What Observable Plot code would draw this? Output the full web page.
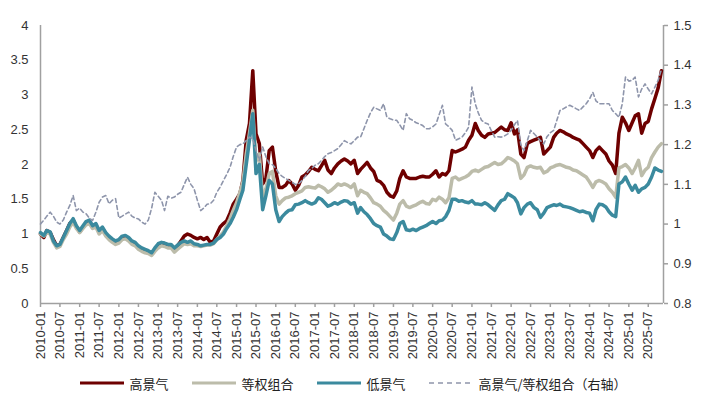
<!DOCTYPE html>
<html><head><meta charset="utf-8">
<script src="https://cdn.jsdelivr.net/npm/d3@7"></script>
<script src="https://cdn.jsdelivr.net/npm/@observablehq/plot@0.6"></script>
<style>
body{margin:0;background:#fff;font-family:"Liberation Sans",Arial,sans-serif;}
#legend{display:flex;justify-content:center;align-items:center;height:30px;font-family:"Noto Sans CJK SC",sans-serif;font-size:13px;color:#222;}
.item{display:flex;align-items:center;margin:0 12px;}
.item svg{margin-right:5px;}
</style></head><body>
<div id="chart"></div><div id="legend"></div>
<script>
// Series names (legend order)
const seriesNames = ["高景气", "等权组合", "低景气", "高景气/等权组合（右轴）"];
const seriesColors = ["#6e0000", "#bcbcaa", "#3b8a9e", "#8e95ab"];

// Monthly values, 2010-01 .. 2025-11 (left axis)
const high = [
  1.0,0.95,1.05,1.02,0.92,0.83,0.85,0.95,1.05,1.15,1.2,1.1,
  1.03,1.1,1.15,1.18,1.1,1.13,1.03,1.08,1.0,0.95,0.9,0.88,
  0.9,0.95,0.96,0.93,0.88,0.86,0.81,0.78,0.76,0.75,0.72,0.78,
  0.84,0.87,0.86,0.84,0.84,0.79,0.83,0.9,0.97,1.0,0.98,0.95,
  0.93,0.95,0.92,0.95,0.88,0.9,1.0,1.1,1.15,1.19,1.3,1.43,
  1.5,1.58,1.77,2.35,2.59,3.35,2.44,2.3,1.72,1.8,2.2,2.25,
  1.9,1.67,1.67,1.7,1.77,1.72,1.63,1.7,1.82,1.85,1.9,1.96,
  1.93,1.91,1.98,2.06,1.92,1.87,1.95,2.01,2.05,2.08,2.05,2.01,
  2.06,1.87,1.93,1.98,2.03,1.95,1.9,1.77,1.75,1.7,1.6,1.55,
  1.53,1.62,1.8,1.91,1.82,1.8,1.8,1.8,1.82,1.83,1.82,1.82,
  1.86,1.91,1.82,1.87,1.85,1.91,2.2,2.18,2.2,2.22,2.25,2.35,
  2.42,2.59,2.49,2.42,2.39,2.44,2.45,2.46,2.5,2.54,2.5,2.49,
  2.6,2.44,2.5,2.15,2.1,2.3,2.33,2.35,2.37,2.39,2.15,2.2,
  2.25,2.39,2.45,2.49,2.47,2.44,2.42,2.39,2.37,2.35,2.3,2.25,
  2.2,2.1,2.2,2.25,2.2,2.15,2.05,1.99,1.87,2.45,2.68,2.6,
  2.49,2.6,2.7,2.73,2.45,2.59,2.62,2.8,2.95,3.1,3.35
];
const equal = [
  1.0,0.97,1.02,1.0,0.88,0.8,0.82,0.92,1.0,1.1,1.17,1.08,
  1.02,1.08,1.13,1.15,1.08,1.1,1.0,1.05,0.97,0.92,0.88,0.85,
  0.87,0.92,0.93,0.9,0.85,0.83,0.78,0.75,0.73,0.72,0.69,0.75,
  0.8,0.83,0.82,0.8,0.8,0.74,0.78,0.82,0.86,0.85,0.86,0.83,
  0.83,0.82,0.83,0.84,0.84,0.86,0.92,0.97,1.03,1.12,1.22,1.34,
  1.45,1.6,1.75,2.15,2.45,2.78,2.05,2.15,1.5,1.65,1.87,1.9,
  1.55,1.43,1.48,1.52,1.53,1.55,1.58,1.6,1.62,1.67,1.68,1.67,
  1.66,1.7,1.68,1.65,1.6,1.63,1.67,1.72,1.7,1.72,1.7,1.67,
  1.72,1.55,1.63,1.6,1.58,1.52,1.45,1.43,1.4,1.34,1.3,1.25,
  1.2,1.3,1.43,1.48,1.4,1.38,1.4,1.42,1.45,1.47,1.44,1.43,
  1.5,1.48,1.53,1.5,1.45,1.52,1.8,1.82,1.78,1.8,1.82,1.85,
  1.9,1.92,1.9,1.93,1.96,1.97,2.0,2.03,2.0,2.01,2.05,2.1,
  2.08,2.05,2.01,1.8,1.85,1.96,1.98,1.96,1.95,1.96,1.88,1.9,
  1.95,1.97,1.99,2.0,1.98,1.96,1.95,1.92,1.91,1.88,1.85,1.82,
  1.75,1.67,1.75,1.77,1.75,1.72,1.65,1.6,1.53,1.95,1.97,2.0,
  1.95,1.87,1.95,2.06,1.84,1.92,1.96,2.1,2.18,2.25,2.3
];
const low = [
  1.02,0.98,1.05,1.03,0.9,0.83,0.85,0.95,1.05,1.15,1.22,1.12,
  1.05,1.12,1.18,1.2,1.12,1.15,1.05,1.1,1.02,0.97,0.93,0.9,
  0.92,0.97,0.98,0.95,0.9,0.88,0.83,0.8,0.78,0.76,0.73,0.8,
  0.86,0.88,0.87,0.85,0.85,0.8,0.84,0.88,0.9,0.88,0.9,0.86,
  0.85,0.83,0.84,0.85,0.85,0.87,0.92,0.95,1.0,1.08,1.15,1.24,
  1.35,1.5,1.63,2.0,2.35,2.73,1.87,2.0,1.35,1.55,1.77,1.72,
  1.35,1.18,1.25,1.3,1.34,1.35,1.42,1.43,1.45,1.48,1.45,1.43,
  1.45,1.52,1.5,1.45,1.4,1.42,1.45,1.43,1.46,1.48,1.47,1.43,
  1.45,1.3,1.38,1.32,1.28,1.22,1.15,1.12,1.1,1.0,0.97,0.93,
  0.92,1.02,1.15,1.18,1.06,1.05,1.07,1.05,1.08,1.1,1.12,1.15,
  1.18,1.15,1.19,1.2,1.25,1.34,1.5,1.5,1.47,1.48,1.46,1.45,
  1.48,1.43,1.43,1.42,1.45,1.42,1.38,1.34,1.42,1.48,1.5,1.58,
  1.55,1.52,1.45,1.29,1.38,1.43,1.45,1.38,1.35,1.24,1.3,1.38,
  1.4,1.42,1.41,1.43,1.4,1.39,1.38,1.36,1.34,1.32,1.33,1.31,
  1.3,1.19,1.35,1.43,1.42,1.39,1.32,1.27,1.25,1.72,1.75,1.82,
  1.72,1.63,1.7,1.6,1.65,1.67,1.72,1.82,1.95,1.92,1.9
];
// Ratio (right axis)
const ratio = [
  1.0,1.01,1.02,1.03,1.02,1.005,1.0,1.01,1.03,1.047,1.072,1.034,
  1.04,1.03,1.026,1.015,1.009,1.03,1.055,1.068,1.072,1.051,1.06,1.064,
  1.015,1.02,1.025,1.03,1.02,1.015,1.013,1.005,1.0,1.01,1.04,1.08,
  1.07,1.06,1.034,1.07,1.065,1.068,1.075,1.08,1.1,1.118,1.1,1.089,
  1.06,1.034,1.04,1.05,1.051,1.06,1.08,1.093,1.11,1.125,1.143,1.17,
  1.194,1.2,1.202,1.21,1.219,1.215,1.185,1.16,1.194,1.17,1.152,1.15,
  1.14,1.127,1.12,1.115,1.11,1.105,1.1,1.101,1.11,1.12,1.135,1.14,
  1.148,1.152,1.16,1.17,1.177,1.18,1.185,1.19,1.2,1.21,1.205,1.202,
  1.21,1.219,1.219,1.24,1.261,1.28,1.294,1.29,1.286,1.303,1.269,1.265,
  1.262,1.261,1.25,1.236,1.278,1.265,1.261,1.255,1.252,1.248,1.24,1.24,
  1.245,1.252,1.275,1.299,1.252,1.245,1.236,1.211,1.215,1.219,1.23,1.244,
  1.345,1.303,1.28,1.261,1.255,1.252,1.235,1.219,1.22,1.219,1.222,1.227,
  1.236,1.25,1.261,1.2,1.185,1.21,1.236,1.228,1.219,1.21,1.202,1.22,
  1.23,1.236,1.26,1.286,1.29,1.295,1.299,1.295,1.29,1.286,1.295,1.303,
  1.315,1.332,1.31,1.303,1.303,1.303,1.303,1.286,1.278,1.269,1.303,1.37,
  1.36,1.362,1.37,1.32,1.34,1.353,1.34,1.328,1.345,1.362,1.39
];

const leftTicks = [0, 0.5, 1, 1.5, 2, 2.5, 3, 3.5, 4];
const rightTicks = [0.8, 0.9, 1.0, 1.1, 1.2, 1.3, 1.4, 1.5];
const xStart = new Date(Date.UTC(2010, 0, 1));
const xEnd = new Date(Date.UTC(2025, 10, 20));
const xTicks = d3.utcMonth.every(6).range(xStart, new Date(Date.UTC(2025, 7, 1)));

const months = d3.utcMonth.range(xStart, new Date(Date.UTC(2025, 11, 1)));
const yMax = 4, rMin = 0.8, rMax = 1.5;
const toLeft = r => (r - rMin) / (rMax - rMin) * yMax;
const toRight = v => rMin + v / yMax * (rMax - rMin);

const rows = s => s.map((v, i) => ({date: months[i], value: v}));
const axisColor = "#a0a0a0";

const chart = Plot.plot({
  width: 707, height: 368,
  marginLeft: 40, marginRight: 44, marginTop: 25, marginBottom: 65,
  style: {fontFamily: "'Liberation Sans', Arial, sans-serif", fontSize: "13px", color: "#333", background: "#fff"},
  x: {type: "utc", domain: [xStart, xEnd]},
  y: {domain: [0, yMax]},
  marks: [
    Plot.axisY(leftTicks, {anchor: "left", tickSize: 0, tickPadding: 12, tickFormat: d3.format("~g"), label: null, fill: "#333"}),
    Plot.axisY(rightTicks.map(toLeft), {anchor: "right", tickSize: 4, tickPadding: 6, stroke: axisColor, strokeWidth: 1.5, tickFormat: d => d3.format(".1~f")(toRight(d)), label: null, fill: "#333"}),
    Plot.axisX(xTicks, {anchor: "bottom", tickSize: 4, tickPadding: 4, tickRotate: -90, stroke: axisColor, strokeWidth: 1.5, tickFormat: d3.utcFormat("%Y-%m"), label: null, fill: "#333"}),
    Plot.ruleX([xStart], {stroke: axisColor, strokeWidth: 1.5}),
    Plot.ruleX([xEnd], {stroke: axisColor, strokeWidth: 1.5}),
    Plot.ruleY([0], {stroke: axisColor, strokeWidth: 1.5}),
    Plot.line(rows(high), {x: "date", y: "value", stroke: seriesColors[0], strokeWidth: 3.5}),
    Plot.line(rows(equal), {x: "date", y: "value", stroke: seriesColors[1], strokeWidth: 3.5}),
    Plot.line(rows(low), {x: "date", y: "value", stroke: seriesColors[2], strokeWidth: 3.5}),
    Plot.line(rows(ratio), {x: "date", y: d => toLeft(d.value), stroke: seriesColors[3], strokeWidth: 1.6, strokeDasharray: "4,3"})
  ]
});
document.getElementById("chart").appendChild(chart);

const legend = document.getElementById("legend");
seriesNames.forEach((name, i) => {
  const item = document.createElement("div");
  item.className = "item";
  const dashed = i === 3;
  item.innerHTML = `<svg width="44" height="8"><line x1="0" y1="4" x2="44" y2="4" stroke="${seriesColors[i]}" stroke-width="${dashed ? 1.6 : 3}" ${dashed ? 'stroke-dasharray="5,4"' : ''}/></svg><span>${name}</span>`;
  legend.appendChild(item);
});
</script>
</body></html>
